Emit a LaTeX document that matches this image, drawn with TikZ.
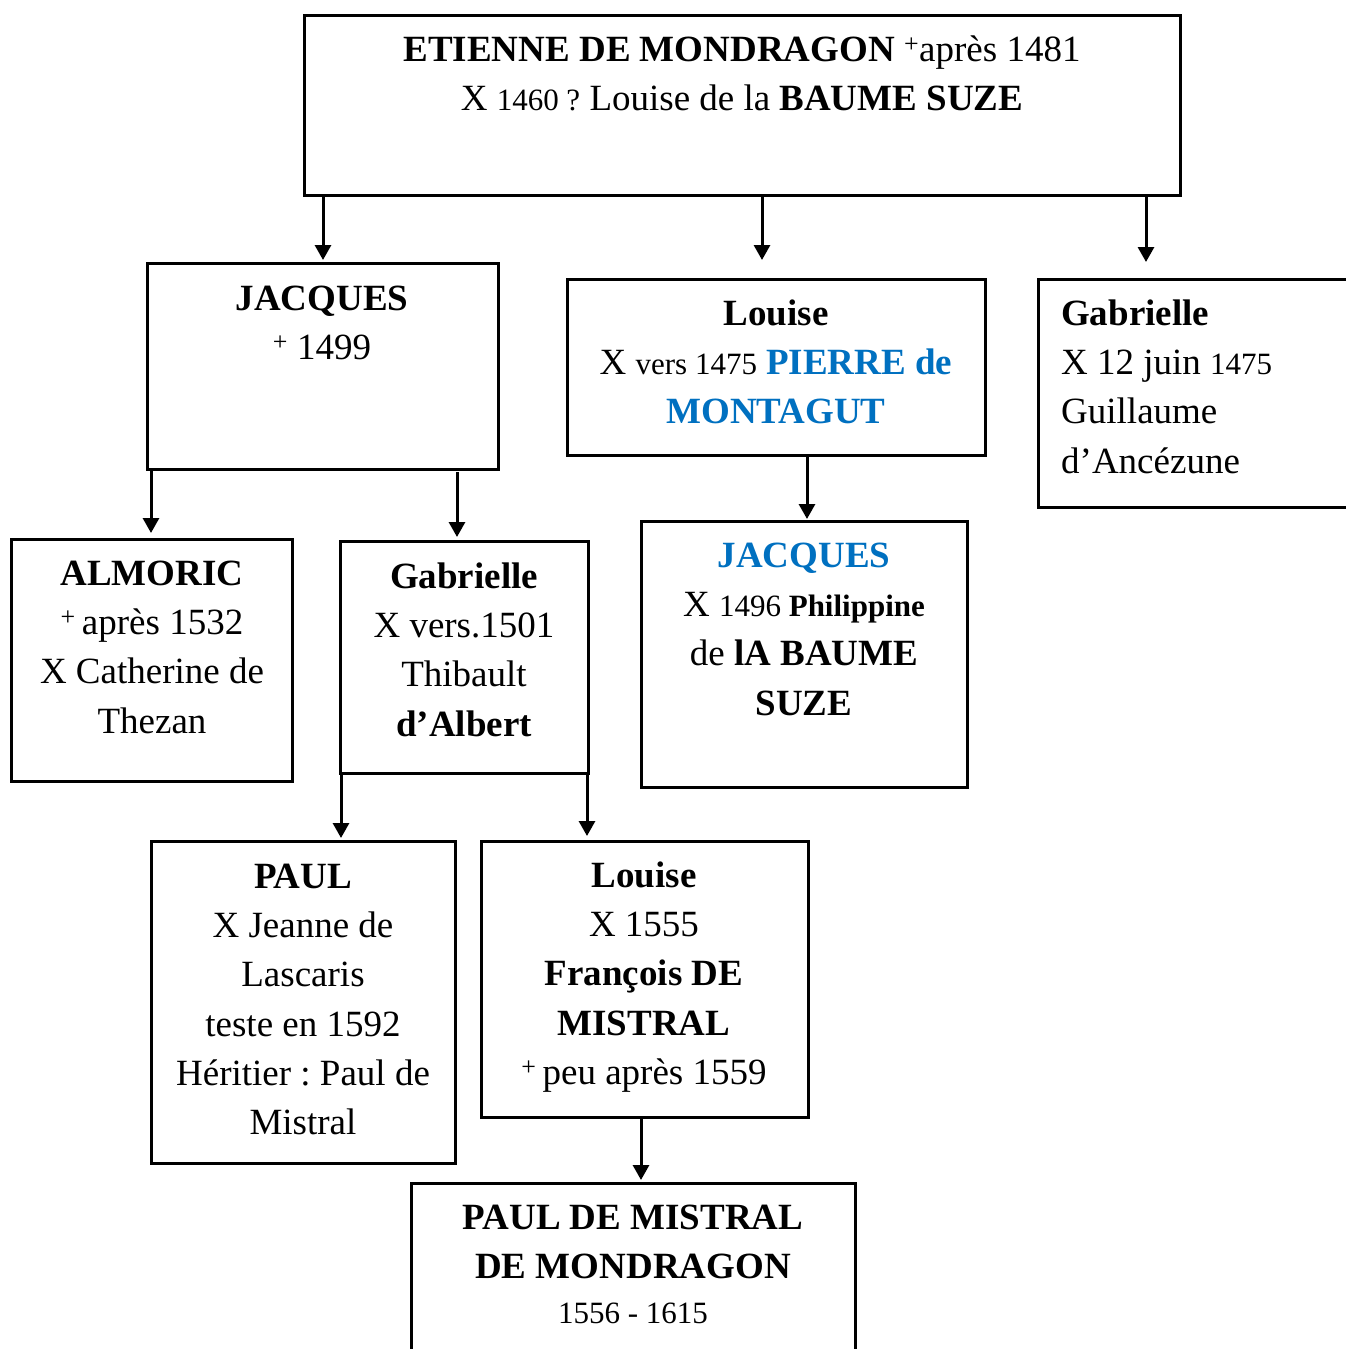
\documentclass[tikz,border=0pt]{standalone}
\usepackage{fontspec}
\setmainfont{Liberation Serif}
\usetikzlibrary{arrows.meta}
\definecolor{wblue}{RGB}{0,112,192}
\frenchspacing
% strut that fixes the top of every text block
\newcommand\lead{\rule{0pt}{34pt}}
% smaller figures used for some dates
\newcommand\sm[1]{{\fontsize{31}{46}\selectfont #1}}
\begin{document}
\begin{tikzpicture}[x=1pt,y=-1pt,
  box/.style={draw, line width=3pt, rectangle, anchor=north west, inner sep=0pt, outer sep=0pt},
  txt/.style={inner sep=0pt, align=center, anchor=north, font=\fontsize{37}{49.3}\selectfont},
  txtl/.style={txt, align=left, anchor=north west},
  arr/.style={line width=3pt, -{Triangle[width=16pt,length=15pt]}}]
\useasboundingbox (0,0) rectangle (1346,1349);
\clip (0,0) rectangle (1346,1349);

% family boxes
\node[box, minimum width=876pt, minimum height=180pt] (top) at (304,15) {};
\node[box, minimum width=351pt, minimum height=206pt] (jac) at (147,263) {};
\node[box, minimum width=418pt, minimum height=176pt] (lou) at (567,279) {};
\node[box, minimum width=400pt, minimum height=228pt] (gabr) at (1038,279) {};
\node[box, minimum width=281pt, minimum height=242pt] (alm) at (11,539) {};
\node[box, minimum width=248pt, minimum height=232pt] (gabm) at (340,541) {};
\node[box, minimum width=326pt, minimum height=266pt] (jacb) at (641,521) {};
\node[box, minimum width=304pt, minimum height=322pt] (paul) at (151,841) {};
\node[box, minimum width=327pt, minimum height=276pt] (loub) at (481,841) {};
\node[box, minimum width=444pt, minimum height=250pt] (pdm) at (411,1183) {};

% texts
\node[txt] (top-t) at (742,27) {\lead\textbf{ETIENNE DE MONDRAGON} \textsuperscript{+}après 1481\\X \sm{1460 ?} Louise de la \textbf{BAUME SUZE}};
\node[txt] (jac-t) at (322,276) {\lead\textbf{JACQUES}\\\textsuperscript{+} 1499};
\node[txt] (lou-t) at (776,291) {\lead\textbf{Louise}\\X \sm{vers 1475} \textcolor{wblue}{\textbf{PIERRE de}}\\\textcolor{wblue}{\textbf{MONTAGUT}}};
\node[txtl] (gabr-t) at (1061,291) {\lead\textbf{Gabrielle}\\X 12 juin \sm{1475}\\Guillaume\\d’Ancézune};
\node[txt] (alm-t) at (152,551) {\lead\textbf{ALMORIC}\\\textsuperscript{+}\,après 1532\\X Catherine de\\Thezan};
\node[txt] (gabm-t) at (464,554) {\lead\textbf{Gabrielle}\\X vers.1501\\Thibault\\\textbf{d’Albert}};
\node[txt] (jacb-t) at (804,533) {\lead\textcolor{wblue}{\textbf{JACQUES}}\\X \sm{1496 \textbf{Philippine}}\\de \textbf{lA BAUME}\\\textbf{SUZE}};
\node[txt] (paul-t) at (303,854) {\lead\textbf{PAUL}\\X Jeanne de\\Lascaris\\teste en 1592\\Héritier : Paul de\\Mistral};
\node[txt] (loub-t) at (644,853) {\lead\textbf{Louise}\\X 1555\\\textbf{François DE}\\\textbf{MISTRAL}\\\textsuperscript{+}\,peu après 1559};
\node[txt] (pdm-t) at (633,1195) {\lead\textbf{PAUL DE MISTRAL}\\\textbf{DE MONDRAGON}\\[-4pt]\sm{1556 - 1615}};

% columns of the descent arrows
\coordinate (c1) at (323,0);
\coordinate (c2) at (762,0);
\coordinate (c3) at (1146,0);
\coordinate (c4) at (151,0);
\coordinate (c5) at (457,0);
\coordinate (c6) at (807,0);
\coordinate (c7) at (341,0);
\coordinate (c8) at (587,0);
\coordinate (c9) at (641,0);

\draw[arr, shorten >=3pt] (top.south -| c1) -- (jac.north -| c1);
\draw[arr, shorten >=19pt] (top.south -| c2) -- (lou.north -| c2);
\draw[arr, shorten >=17pt] (top.south -| c3) -- (gabr.north -| c3);
\draw[arr, shorten >=6pt] (jac.south -| c4) -- (alm.north -| c4);
\draw[arr, shorten <=3pt, shorten >=4pt] (jac.south -| c5) -- (gabm.north -| c5);
\draw[arr, shorten >=2pt] (lou.south -| c6) -- (jacb.north -| c6);
\draw[arr, shorten >=3pt] (gabm.south -| c7) -- (paul.north -| c7);
\draw[arr, shorten >=5pt] (gabm.south -| c8) -- (loub.north -| c8);
\draw[arr, shorten >=3pt] (loub.south -| c9) -- (pdm.north -| c9);
\end{tikzpicture}
\end{document}
